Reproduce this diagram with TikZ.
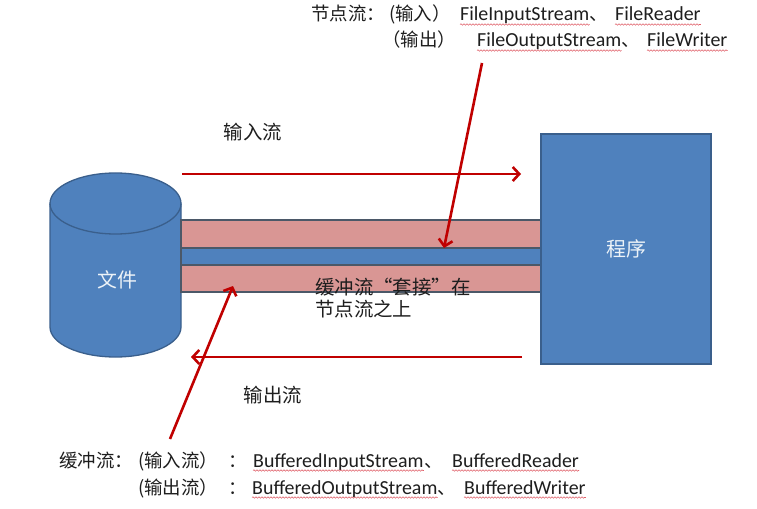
\documentclass[tikz,border=0pt]{standalone}
\usepackage{fontspec}
\setmainfont{Carlito}
\newfontfamily\cjk{Noto Sans CJK SC}
\usetikzlibrary{arrows.meta,decorations.pathmorphing}
\definecolor{boxblue}{HTML}{4F81BD}
\definecolor{boxedge}{HTML}{3A5F8C}
\definecolor{bandpink}{HTML}{D99694}
\definecolor{bandedge}{HTML}{4B5868}
\definecolor{arrowred}{HTML}{C00000}
\definecolor{txt}{HTML}{1E1E1E}
\definecolor{wavered}{HTML}{E0606A}
\begin{document}
\begin{tikzpicture}[x=1bp,y=-1bp,
  flow/.style={draw=arrowred, line width=2.6bp, -{Straight Barb[length=6.5bp,width=14bp]}},
  lbl/.style={inner sep=0, text=txt, font=\cjk\fontsize{19.5}{22}\selectfont},
  seg/.style={inner sep=0, anchor=base west, text=txt},
  cj/.style={font=\cjk\fontsize{18.5}{20}\selectfont},
  la/.style={font=\fontsize{20}{22}\selectfont},
  wave/.style={draw=wavered, line width=0.6bp, decorate, decoration={snake, amplitude=0.7bp, segment length=3bp}},
  inshape/.style={inner sep=0, text=white!90!boxblue, font=\cjk\fontsize{20}{22}\selectfont},
  band/.style={draw=bandedge, line width=1.3bp}]
\useasboundingbox (0,0) rectangle (757,509);
\fill[white] (0,0) rectangle (757,509);

% cylinder (file)
\filldraw[fill=boxblue, draw=boxedge, line width=1.3bp]
  (50,203.5) -- (50,327)
  arc[start angle=180, end angle=360, x radius=65.5bp, y radius=30bp]
  -- (181,203.5)
  arc[start angle=0, end angle=180, x radius=65.5bp, y radius=30.5bp] -- cycle;
\draw[boxedge, line width=1.3bp] (50,203.5)
  arc[start angle=180, end angle=360, x radius=65.5bp, y radius=30.5bp];
\node[inshape] (file) at (117,280) {文件};

% bands
\path[band, fill=bandpink] (181,220) rectangle (541,248);
\path[band, fill=boxblue] (181,248) rectangle (541,265);
\path[band, fill=bandpink] (181,265) rectangle (541,292);

% program box
\node[draw=boxedge, fill=boxblue, line width=1.5bp, minimum width=170bp,
  minimum height=230bp, inner sep=0, text=white!90!boxblue,
  font=\cjk\fontsize{20}{22}\selectfont] (prog) at (626,249) {程序};

% flow arrows
\coordinate (inS) at (182,174);
\coordinate (inE) at (521,174);
\coordinate (outS) at (522,357);
\coordinate (outE) at (191,357);
\coordinate (nfS) at (482,63);
\coordinate (nfE) at (444,248);
\coordinate (bfS) at (170,439);
\coordinate (bfE) at (233,286);
\draw[flow] (inS) -- (inE);
\draw[flow] (outS) -- (outE);
\draw[flow] (nfS) -- (nfE);
\draw[flow] (bfS) -- (bfE);

% labels
\node[lbl] (inlbl) at (253,132) {输入流};
\node[lbl] (outlbl) at (273,395) {输出流};
\node[lbl, anchor=west] (mid1) at (315,287) {缓冲流“套接”在};
\node[lbl, anchor=west] (mid2) at (315,309) {节点流之上};

% top text
\node[seg,cj] (t1a) at (311,21) {节点流：};
\node[seg,cj] (t1b) at (389,21) {(输入）};
\node[seg,la] (t1c) at (460,21) {FileInputStream};
\node[seg,cj] (t1d) at (t1c.base east) {、};
\node[seg,la] (t1e) at (615,21) {FileReader};
\node[seg,cj] (t2a) at (382,47) {（输出）};
\node[seg,la] (t2b) at (477,47) {FileOutputStream};
\node[seg,cj] (t2c) at (t2b.base east) {、};
\node[seg,la] (t2d) at (647,47) {FileWriter};

% bottom text
\node[seg,cj] (b1a) at (59,467) {缓冲流：};
\node[seg,cj] (b1b) at (138,467) {(输入流）};
\node[seg,cj] (b1c) at (228,467) {：};
\node[seg,la] (b1d) at (253,467) {BufferedInputStream};
\node[seg,cj] (b1e) at (b1d.base east) {、};
\node[seg,la] (b1f) at (452,467) {BufferedReader};
\node[seg,cj] (b2a) at (138,494) {(输出流）};
\node[seg,cj] (b2b) at (228,494) {：};
\node[seg,la] (b2c) at (252,494) {BufferedOutputStream};
\node[seg,cj] (b2d) at (b2c.base east) {、};
\node[seg,la] (b2e) at (464,494) {BufferedWriter};

% spell-check wavy underlines
\foreach \w in {t1c,t1e,t2b,t2d,b1d,b1f,b2c,b2e}
  \draw[wave] ([yshift=-3.5bp]\w.base west) -- ([yshift=-3.5bp]\w.base east);
\end{tikzpicture}
\end{document}
